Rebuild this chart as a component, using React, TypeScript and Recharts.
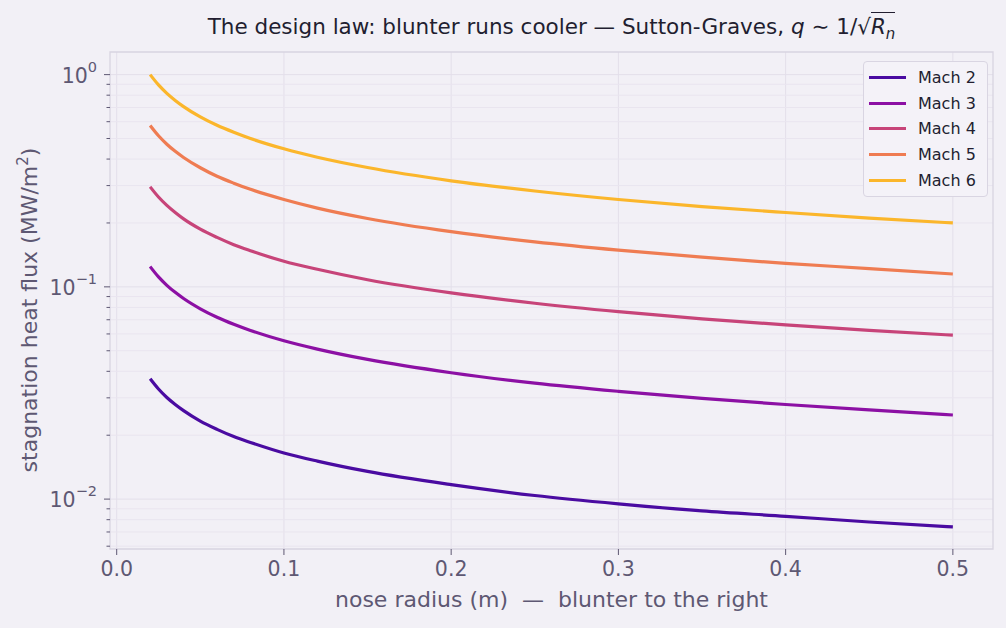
import React from "react";
import {
  CartesianGrid,
  Line,
  LineChart,
  ReferenceArea,
  XAxis,
  YAxis,
} from "recharts";

// nose radius (m)
const RADIUS = [
  0.02, 0.025, 0.03, 0.035, 0.04, 0.05, 0.06, 0.07, 0.08, 0.1, 0.12, 0.15, 0.2,
  0.25, 0.3, 0.35, 0.4, 0.45, 0.5,
];

// stagnation heat flux (MW/m^2)
const MACH2 = [
  0.0369, 0.033, 0.0301, 0.0279, 0.0261, 0.0233, 0.0213, 0.0197, 0.0185,
  0.0165, 0.0151, 0.0135, 0.0117, 0.0104, 0.0095, 0.0088, 0.0083, 0.0078,
  0.0074,
];
const MACH3 = [
  0.1246, 0.1114, 0.1017, 0.0942, 0.0881, 0.0788, 0.0719, 0.0666, 0.0623,
  0.0557, 0.0509, 0.0455, 0.0394, 0.0352, 0.0322, 0.0298, 0.0279, 0.0263,
  0.0249,
];
const MACH4 = [
  0.296, 0.265, 0.242, 0.224, 0.209, 0.187, 0.171, 0.158, 0.148, 0.132, 0.121,
  0.108, 0.0936, 0.0837, 0.0764, 0.0707, 0.0662, 0.0624, 0.0592,
];
const MACH5 = [
  0.576, 0.515, 0.47, 0.435, 0.407, 0.364, 0.332, 0.308, 0.288, 0.258, 0.235,
  0.21, 0.182, 0.163, 0.149, 0.138, 0.129, 0.122, 0.115,
];
const MACH6 = [
  1.0, 0.894, 0.816, 0.756, 0.707, 0.632, 0.577, 0.535, 0.5, 0.447, 0.408,
  0.365, 0.316, 0.283, 0.258, 0.239, 0.224, 0.211, 0.2,
];

const X_TICKS = [0, 0.1, 0.2, 0.3, 0.4, 0.5];
const Y_MAJOR = [0.01, 0.1, 1];
const Y_MINOR = [
  0.006, 0.007, 0.008, 0.009, 0.02, 0.03, 0.04, 0.05, 0.06, 0.07, 0.08, 0.09,
  0.2, 0.3, 0.4, 0.5, 0.6, 0.7, 0.8, 0.9,
];
const X_DOMAIN = [-0.004, 0.524];
const Y_DOMAIN = [0.00582, 1.278];

const SERIES = [
  { key: "m2", name: "Mach 2", values: MACH2, color: "#4a0ba1" },
  { key: "m3", name: "Mach 3", values: MACH3, color: "#8c10a4" },
  { key: "m4", name: "Mach 4", values: MACH4, color: "#c74479" },
  { key: "m5", name: "Mach 5", values: MACH5, color: "#ef7c52" },
  { key: "m6", name: "Mach 6", values: MACH6, color: "#fbb62b" },
];

const data = RADIUS.map((r, i) => {
  const row: Record<string, number> = { r };
  SERIES.forEach((s) => (row[s.key] = s.values[i]));
  return row;
});

const BG = "#f2f0f6";
const INK = "#5e5873";
const TITLE = "#221e30";
const FONT = "'DejaVu Sans', sans-serif";
const PLOT_LEFT = 110;
const TICK_FS = 20.5;

// log-axis tick: long tick + 10^k label for decades, short tick for minors
function YTick(props: any) {
  const { y, payload } = props;
  const v = payload.value as number;
  const major = Y_MAJOR.some((m) => Math.abs(m - v) / m < 1e-6);
  const len = major ? 6 : 3.5;
  const exp = Math.round(Math.log10(v));
  return (
    <g>
      <line
        x1={PLOT_LEFT - len}
        x2={PLOT_LEFT}
        y1={y}
        y2={y}
        stroke={INK}
        strokeWidth={1}
      />
      {major && (
        <text
          x={PLOT_LEFT - 13}
          y={y + 1}
          textAnchor="end"
          dominantBaseline="central"
          fill={INK}
          fontSize={TICK_FS}
          fontFamily={FONT}
        >
          10
          <tspan dy={-9} fontSize={14.5}>
            {exp < 0 ? "\u2212" + Math.abs(exp) : String(exp)}
          </tspan>
        </text>
      )}
    </g>
  );
}

function LegendBox() {
  return (
    <div
      style={{
        position: "absolute",
        left: 863,
        top: 61,
        width: 125,
        boxSizing: "border-box",
        border: "1.3px solid #d9d5e2",
        borderRadius: 4,
        background: "#f4f2f8",
        padding: "3px 0 3px 5px",
        fontSize: 16,
        color: TITLE,
      }}
    >
      {SERIES.map((s) => (
        <div
          key={s.key}
          style={{ display: "flex", alignItems: "center", height: 25.6 }}
        >
          <span
            style={{
              display: "inline-block",
              width: 37,
              height: 3,
              background: s.color,
              marginRight: 12,
            }}
          />
          {s.name}
        </div>
      ))}
    </div>
  );
}

export default function App() {
  return (
    <div
      style={{
        position: "relative",
        width: 1006,
        height: 628,
        background: BG,
        fontFamily: FONT,
      }}
    >
      <style>{`body{margin:0;background:${BG}}`}</style>
      <LineChart
        width={1006}
        height={628}
        data={data}
        margin={{ top: 52, right: 13, left: 0, bottom: 0 }}
      >
        <CartesianGrid
          horizontal={false}
          verticalValues={X_TICKS}
          stroke="#e3dfea"
          strokeWidth={1}
        />
        <CartesianGrid
          vertical={false}
          horizontalValues={Y_MINOR}
          stroke="#e9e5ef"
          strokeWidth={1}
        />
        <CartesianGrid
          vertical={false}
          horizontalValues={Y_MAJOR}
          stroke="#e3dfea"
          strokeWidth={1}
        />
        <XAxis
          dataKey="r"
          type="number"
          domain={X_DOMAIN}
          allowDataOverflow
          ticks={X_TICKS}
          tickFormatter={(v: number) => v.toFixed(1)}
          height={79}
          axisLine={false}
          tickSize={6}
          tickMargin={6}
          tickLine={{ stroke: INK }}
          tick={{ fill: INK, fontSize: TICK_FS, fontFamily: FONT }}
        />
        <YAxis
          type="number"
          scale="log"
          domain={Y_DOMAIN}
          allowDataOverflow
          ticks={[...Y_MAJOR, ...Y_MINOR]}
          width={PLOT_LEFT}
          axisLine={false}
          tickLine={false}
          tick={<YTick />}
          interval={0}
        />
        <ReferenceArea
          x1={X_DOMAIN[0]}
          x2={X_DOMAIN[1]}
          y1={Y_DOMAIN[0]}
          y2={Y_DOMAIN[1]}
          fill="none"
          stroke="#d8d4e1"
          strokeWidth={1.3}
        />
        {SERIES.map((s) => (
          <Line
            key={s.key}
            dataKey={s.key}
            name={s.name}
            type="monotone"
            stroke={s.color}
            strokeWidth={3.2}
            dot={false}
            isAnimationActive={false}
          />
        ))}
      </LineChart>

      <LegendBox />

      <div
        style={{
          position: "absolute",
          top: 14,
          left: 110,
          width: 883,
          textAlign: "center",
          fontSize: 21.5,
          color: TITLE,
          whiteSpace: "nowrap",
        }}
      >
        The design law: blunter runs cooler — Sutton-Graves,{" "}
        <i>q</i> ∼ 1/√
        <span style={{ borderTop: "1px solid " + TITLE, paddingTop: 1 }}>
          <i>R</i>
          <sub style={{ fontSize: 15, fontStyle: "italic" }}>n</sub>
        </span>
      </div>

      <div
        style={{
          position: "absolute",
          top: 587,
          left: 110,
          width: 883,
          textAlign: "center",
          fontSize: 22,
          color: INK,
          whiteSpace: "pre",
        }}
      >
        nose radius (m)  —  blunter to the right
      </div>

      <div
        style={{
          position: "absolute",
          left: 28,
          top: 310,
          transform: "translate(-50%, -50%) rotate(-90deg)",
          fontSize: 22,
          color: INK,
          whiteSpace: "nowrap",
        }}
      >
        stagnation heat flux (MW/m<sup style={{ fontSize: 15 }}>2</sup>)
      </div>
    </div>
  );
}
